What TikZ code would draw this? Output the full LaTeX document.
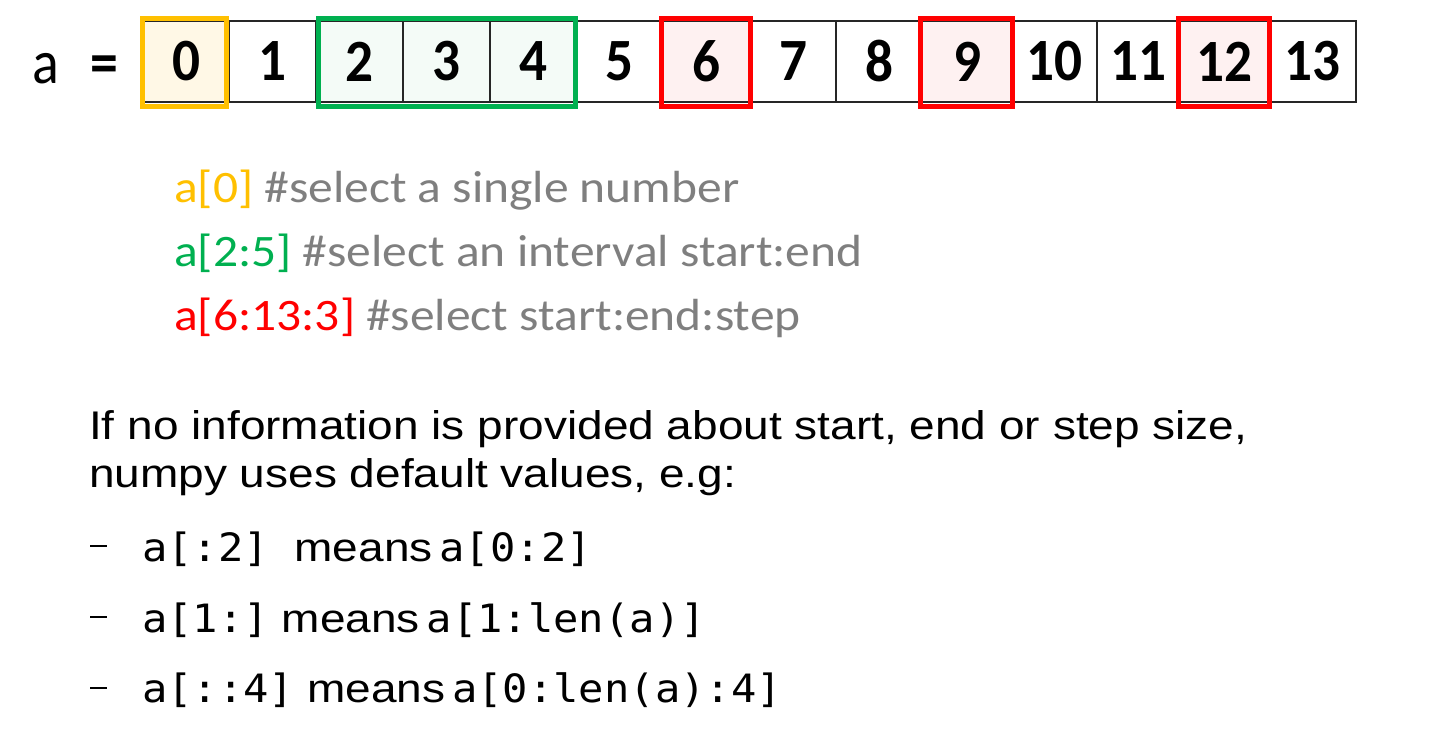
\documentclass[tikz,border=0pt]{standalone}
\usepackage{fontspec}
\setmainfont{Carlito}
\newfontfamily\codef[FakeStretch=1.10]{Carlito}
\newfontfamily\cellf[FakeStretch=0.92]{Carlito}
\newfontfamily\lblf[FakeStretch=0.9]{Carlito}
\newfontfamily\arialf[FakeStretch=1.15]{Liberation Sans}
\newfontfamily\monof[FakeStretch=1.08]{DejaVu Sans Mono}
\definecolor{hlyellow}{HTML}{FFC000}
\definecolor{hlgreen}{HTML}{00B050}
\definecolor{hlred}{HTML}{FF0000}
\definecolor{fillyellow}{HTML}{FFF8E6}
\definecolor{fillgreen}{HTML}{F4FBF7}
\definecolor{fillred}{HTML}{FEF1F1}
\definecolor{txtgray}{HTML}{7F7F7F}
\newcommand{\mn}[1]{{\monof\fontsize{39}{42}\selectfont #1}}
\tikzset{
  cell/.style={draw=black!85, line width=1.3pt, minimum height=81pt, inner sep=0pt, font=\cellf\fontsize{60}{64}\selectfont\bfseries, text=black},
  hlbox/.style={draw=#1, line width=5pt},
  codeline/.style={anchor=base west, inner sep=0pt, font=\codef\fontsize{45}{50}\selectfont},
  bodyline/.style={anchor=base west, inner sep=0pt, font=\arialf\fontsize{40}{44}\selectfont},
  dashmark/.style={draw=black, line width=2.8pt},
}
\begin{document}
\begin{tikzpicture}[x=1pt,y=-1pt]
\useasboundingbox (0,0) rectangle (1446,734);
% label
\node[anchor=base, inner sep=0pt, font=\lblf\fontsize{62}{66}\selectfont] (lbla) at (46,83) {a};
\node[anchor=base, inner sep=0pt, font=\lblf\fontsize{62}{66}\selectfont\bfseries] (lbleq) at (104.5,83) {=};
% cells
\foreach \i/\l/\r/\f in {0/143/229/fillyellow,1/229/316/white,2/316/403/fillgreen,3/403/490/fillgreen,4/490/576/fillgreen,5/576/663/white,6/663/750/fillred,7/750/836/white,8/836/922/white,9/922/1012/fillred,10/1012/1097/white,11/1097/1180/white,12/1180/1268/fillred,13/1268/1356/white}{
  \pgfmathsetmacro{\cx}{(\l+\r)/2}
  \pgfmathsetmacro{\cw}{\r-\l}
  \node[cell, fill=\f, minimum width=\cw pt] (c\i) at (\cx,61.5) {\i};
}
% highlight boxes
\draw[hlbox=hlyellow] ([xshift=0pt,yshift=1.5pt]c0.north west) rectangle ([xshift=-3pt,yshift=-3.5pt]c0.south east);
\draw[hlbox=hlgreen] ([xshift=3.5pt,yshift=1.5pt]c2.north west) rectangle ([xshift=-1.5pt,yshift=-3.5pt]c4.south east);
\draw[hlbox=hlred] ([xshift=-0.5pt,yshift=1.5pt]c6.north west) rectangle ([xshift=-0.5pt,yshift=-3.5pt]c6.south east);
\draw[hlbox=hlred] ([xshift=-0.5pt,yshift=1.5pt]c9.north west) rectangle ([xshift=-0.5pt,yshift=-3.5pt]c9.south east);
\draw[hlbox=hlred] ([xshift=-0.5pt,yshift=1.5pt]c12.north west) rectangle ([xshift=0.5pt,yshift=-3.5pt]c12.south east);
% code comments
\node[codeline] (l1) at (174,202) {\textcolor{hlyellow}{a[0]} \textcolor{txtgray}{\#select a single number}};
\node[codeline] (l2) at (174,266) {\textcolor{hlgreen}{a[2:5]} \textcolor{txtgray}{\#select an interval start:end}};
\node[codeline] (l3) at (174,330) {\textcolor{hlred}{a[6:13:3]} \textcolor{txtgray}{\#select start:end:step}};
% body
\node[bodyline] (b1) at (89,439) {If no information is provided about start, end or step size,};
\node[bodyline] (b2) at (89,487) {numpy uses default values, e.g:};
\coordinate (d1a) at (90,546); \coordinate (d1b) at (107,546);
\coordinate (d2a) at (90,617); \coordinate (d2b) at (107,617);
\coordinate (d3a) at (90,688); \coordinate (d3b) at (107,688);
\draw[dashmark] (d1a) -- (d1b);
\draw[dashmark] (d2a) -- (d2b);
\draw[dashmark] (d3a) -- (d3b);
\node[bodyline] (e1) at (142,561) {\mn{a[:2]}\ \ means\hspace{7pt}\mn{a[0:2]}};
\node[bodyline] (e2) at (142,632) {\mn{a[1:]}\ means\hspace{7pt}\mn{a[1:len(a)]}};
\node[bodyline] (e3) at (142,702) {\mn{a[::4]}\ means\hspace{7pt}\mn{a[0:len(a):4]}};
\end{tikzpicture}
\end{document}
